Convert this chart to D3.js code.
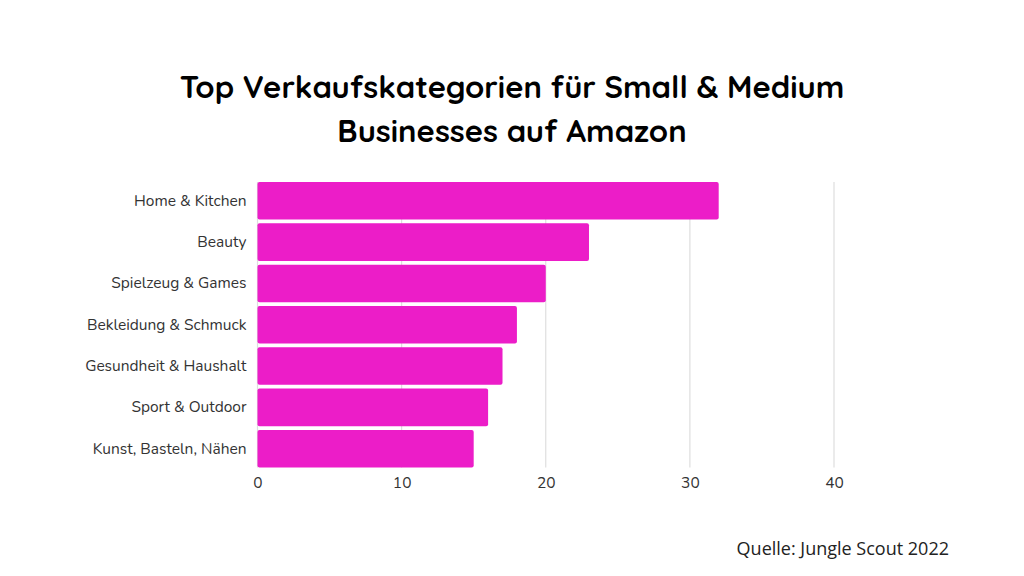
<!DOCTYPE html>
<html>
<head>
<meta charset="utf-8">
<script src="https://cdn.jsdelivr.net/npm/d3@7"></script>
<style>
  html, body { margin: 0; padding: 0; background: #fff; }
  svg { display: block; }
</style>
</head>
<body>
<svg id="chart" width="1024" height="576"></svg>
<script>
const categories = ["Home & Kitchen", "Beauty", "Spielzeug & Games", "Bekleidung & Schmuck", "Gesundheit & Haushalt", "Sport & Outdoor", "Kunst, Basteln, Nähen"];
const values = [32, 23, 20, 18, 17, 16, 15];
const tickValues = [0, 10, 20, 30, 40];
const titleLines = ["Top Verkaufskategorien für Small & Medium", "Businesses auf Amazon"];
const sourceText = "Quelle: Jungle Scout 2022";

const svg = d3.select("#chart");
const W = 1024, H = 576;
svg.append("rect").attr("width", W).attr("height", H).attr("fill", "#fff");

const x = d3.scaleLinear().domain([0, 40]).range([257.5, 834]);
const y = d3.scaleBand().domain(categories).range([182, 467.5]).paddingInner(0.09).paddingOuter(0);

// gridlines
svg.append("g").selectAll("line").data(tickValues).join("line")
  .attr("x1", d => x(d)).attr("x2", d => x(d))
  .attr("y1", 182).attr("y2", 467.5)
  .attr("stroke", "#dedede").attr("stroke-width", 1.2);

// bars
svg.append("g").selectAll("rect").data(values).join("rect")
  .attr("x", x(0))
  .attr("y", (d, i) => y(categories[i]))
  .attr("width", d => x(d) - x(0))
  .attr("height", y.bandwidth())
  .attr("rx", 2).attr("ry", 2)
  .attr("fill", "#ec1dc8");

// y axis labels
const yAxis = d3.axisLeft(y).tickSize(0).tickPadding(11);
const gy = svg.append("g").attr("transform", `translate(${x(0)},0)`).call(yAxis);
gy.select(".domain").remove();
gy.selectAll("text")
  .attr("font-family", "Nunito, Lato, 'Open Sans', sans-serif")
  .attr("font-size", 15.5).attr("fill", "#333");

// x axis labels
const xAxis = d3.axisBottom(x).tickValues(tickValues).tickSize(0).tickPadding(9);
const gx = svg.append("g").attr("transform", `translate(0,${467.5})`).call(xAxis);
gx.select(".domain").remove();
gx.selectAll("text")
  .attr("font-family", "Nunito, Lato, 'Open Sans', sans-serif")
  .attr("font-size", 15.5).attr("fill", "#333");

// title
svg.append("g").selectAll("text").data(titleLines).join("text")
  .attr("x", 512).attr("y", (d, i) => 98 + i * 44)
  .attr("text-anchor", "middle")
  .attr("font-family", "Quicksand, Lato, 'Open Sans', sans-serif")
  .attr("font-weight", "bold").attr("font-size", 31)
  .attr("fill", "#000")
  .text(d => d);

// source
svg.append("text")
  .attr("x", 949).attr("y", 555)
  .attr("text-anchor", "end")
  .attr("font-family", "'Open Sans', Lato, sans-serif")
  .attr("font-size", 18).attr("fill", "#222")
  .text(sourceText);
</script>
</body>
</html>
